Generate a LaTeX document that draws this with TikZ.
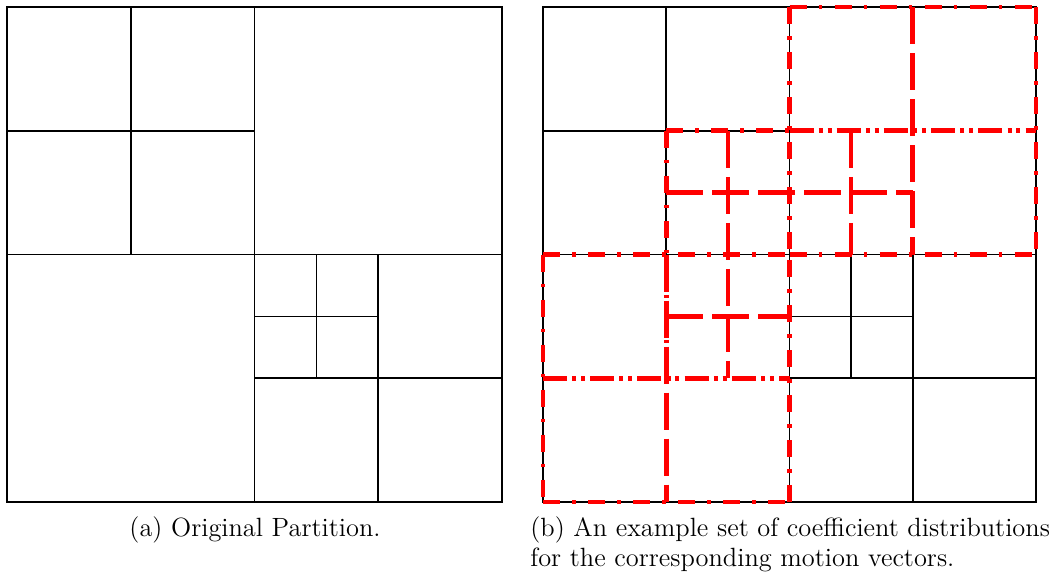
\documentclass[tikz,border=0pt]{standalone}
\begin{document}
\begin{tikzpicture}[x=0.5pt,y=-0.5pt,
  blk/.style={line width=0.85pt,black},
  rdashdot/.style={line width=2.3pt,red,dash pattern=on 8.5pt off 6pt on 1.8pt off 6.2pt},
  rdashdotdot/.style={line width=2.3pt,red,dash pattern=on 12pt off 2.6pt on 2pt off 2.4pt on 2pt off 2.6pt},
  rdashed/.style={line width=2.3pt,red,dash pattern=on 18.5pt off 4.5pt},
  captext/.style={font=\fontsize{13.2}{15}\selectfont,inner sep=0pt}]
\useasboundingbox (0,0) rectangle (1053,574);
% ---------- left panel ----------
\begin{scope}[shift={(7,7)}]
\begin{scope}[x=61.875pt,y=-61.875pt]
  \draw[blk] (0,0) rectangle (4,4);
  \draw[blk] (2,0)--(2,4) (0,2)--(4,2);
  \draw[blk] (1,0)--(1,2) (0,1)--(2,1);
  \draw[blk] (3,2)--(3,4) (2,3)--(4,3);
  \draw[blk] (2.5,2)--(2.5,3) (2,2.5)--(3,2.5);
\end{scope}
\end{scope}
% ---------- right panel ----------
\begin{scope}[shift={(543,7)}]
\begin{scope}[x=61.625pt,y=-61.875pt]
  \draw[blk] (0,0) rectangle (4,4);
  \draw[blk] (2,0)--(2,4) (0,2)--(4,2);
  \draw[blk] (1,0)--(1,2) (0,1)--(2,1);
  \draw[blk] (3,2)--(3,4) (2,3)--(4,3);
  \draw[blk] (2.5,2)--(2.5,3) (2,2.5)--(3,2.5);
  % dashed interior lines
  \draw[rdashed] (3,0)--(3,2);
  \draw[rdashed] (1,2)--(1,4);
  \draw[rdashed] (1.5,1)--(1.5,3);
  \draw[rdashed] (2.5,1)--(2.5,2);
  \draw[rdashed] (1,1.5)--(3,1.5);
  \draw[rdashed] (1,2.5)--(2,2.5);
  % dash-dot-dot cross lines
  \draw[rdashdotdot] (2,1)--(4,1);
  \draw[rdashdotdot] (0,3)--(2,3);
  % dash-dot outlines, one segment per path
  \draw[rdashdot] (2,0)--(4,0);
  \draw[rdashdot] (4,0)--(4,2);
  \draw[rdashdot] (2,0)--(2,2);
  \draw[rdashdot] (2,4)--(2,2);
  \draw[rdashdot] (0,2)--(2,2);
  \draw[rdashdot] (2,2)--(4,2);
  \draw[rdashdot] (0,2)--(0,4);
  \draw[rdashdot] (0,4)--(2,4);
  \draw[rdashdot] (1,1)--(2,1);
  \draw[rdashdot] (1,1)--(1,3);
\end{scope}
\end{scope}
% ---------- captions ----------
\node[captext,anchor=base] (capa) at (255,536) {(a) Original Partition.};
\node[captext,anchor=base west] (capb1) at (530,536) {(b) An example set of coefficient distributions};
\node[captext,anchor=base west] (capb2) at (530,566) {for the corresponding motion vectors.};
\end{tikzpicture}
\end{document}
